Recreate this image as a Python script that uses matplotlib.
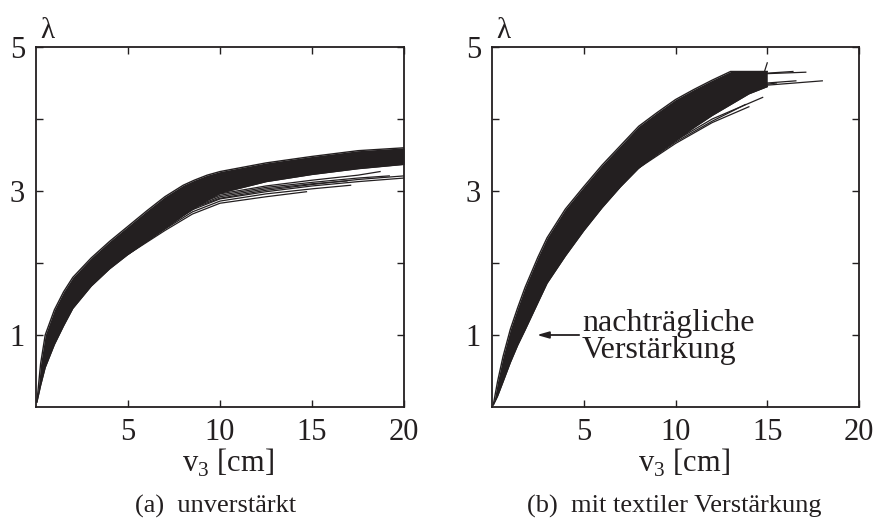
'''
Lambda ueber v3: unverstaerkt vs. mit textiler Verstaerkung
'''
import numpy as np
import matplotlib
matplotlib.use('Agg')
from matplotlib import pyplot as plt

plt.rcParams['font.family'] = ['Liberation Serif', 'DejaVu Serif']
plt.rcParams['mathtext.fontset'] = 'custom'
plt.rcParams['mathtext.rm'] = 'Liberation Serif'

ink = '#231f20'

# ---- (a) unverstaerkt: Kurvenschar als Band + auslaufende Einzelkurven
v_a = [0.05, 0.25, 0.5, 1, 1.5, 2, 3, 4, 5, 6, 7, 8, 8.6, 9.3, 10, 12.5, 15, 17.5, 20]
oben_a = [0.07, 0.6, 1.0, 1.35, 1.6, 1.8, 2.07, 2.3, 2.51, 2.72, 2.92, 3.08, 3.15, 3.22, 3.27, 3.39, 3.48, 3.56, 3.6]
unten_a = [0.07, 0.3, 0.55, 0.87, 1.13, 1.37, 1.68, 1.92, 2.12, 2.3, 2.48, 2.66, 2.76, 2.87, 2.97, 3.13, 3.23, 3.31, 3.37]

# einzelne Kurven unterhalb des Bandes (v, lambda)
kurven_a = [
    ([5, 7, 8.5, 10, 12.5, 14.7], [2.12, 2.45, 2.68, 2.83, 2.92, 2.99]),
    ([5, 7, 8.5, 10, 12.5, 15, 17.1], [2.13, 2.47, 2.71, 2.86, 2.96, 3.03, 3.08]),
    ([5, 7, 8.5, 10, 12.5, 15, 17.5, 20], [2.14, 2.49, 2.74, 2.89, 2.99, 3.07, 3.13, 3.18]),
    ([5, 7, 8.5, 10, 12.5, 15, 16.9], [2.15, 2.51, 2.77, 2.92, 3.03, 3.1, 3.14]),
    ([5, 7, 8.5, 10, 12.5, 15, 17.5, 19.2], [2.15, 2.52, 2.79, 2.94, 3.05, 3.12, 3.18, 3.21]),
    ([5, 7, 8.5, 10, 12.5, 15, 17.5, 18.7], [2.16, 2.53, 2.8, 2.96, 3.07, 3.15, 3.22, 3.27]),
    ([5, 7, 8.5, 10, 12.5, 15, 17.5, 20], [2.15, 2.5, 2.76, 2.9, 3.01, 3.09, 3.16, 3.21]),
    ([8, 10, 12.5, 15, 17.5, 20], [2.75, 3.05, 3.2, 3.3, 3.38, 3.43]),
    ([8, 10, 12.5, 15, 17.5, 19.5], [2.85, 3.12, 3.28, 3.38, 3.46, 3.5]),
    ([8, 10, 12.5, 15, 17.5, 20], [2.9, 3.15, 3.3, 3.4, 3.48, 3.53]),
]

# ---- (b) mit textiler Verstaerkung
v_b = [0.07, 0.3, 0.6, 1, 1.4, 1.8, 2.5, 3, 4, 5, 6, 7, 8, 9, 10, 11, 12, 13, 14, 15]
oben_b = [0.03, 0.35, 0.7, 1.08, 1.38, 1.66, 2.08, 2.35, 2.75, 3.06, 3.36, 3.63, 3.9, 4.09, 4.27, 4.41, 4.54, 4.66, 4.66, 4.66]
unten_b = [0.03, 0.15, 0.35, 0.62, 0.86, 1.07, 1.45, 1.72, 2.1, 2.45, 2.77, 3.06, 3.32, 3.52, 3.7, 3.88, 4.05, 4.2, 4.35, 4.45]

kurven_b = [
    ([8, 10, 12, 14], [3.32, 3.66, 3.95, 4.17]),
    ([8, 10, 12, 14.75], [3.35, 3.7, 4.0, 4.3]),
    ([8, 10, 12, 13.8], [3.33, 3.68, 3.97, 4.2]),
    ([12, 14, 15, 16.5, 18], [4.25, 4.42, 4.47, 4.5, 4.53]),
    ([12, 14, 15, 17.1], [4.45, 4.6, 4.63, 4.65]),
    ([12, 14, 16.4], [4.5, 4.62, 4.66]),
    ([12, 14, 15, 16.56], [4.3, 4.47, 4.5, 4.53]),
    ([12, 14, 15.5], [4.3, 4.45, 4.5]),
    ([14.8, 15.0], [4.62, 4.78]),
]

fig = plt.figure(figsize=(8.83, 5.27), dpi=100)
ax_a = fig.add_axes([36 / 883, 120 / 527, 368 / 883, 360 / 527])
ax_b = fig.add_axes([492 / 883, 120 / 527, 367 / 883, 360 / 527])

for ax, v, oben, unten, kurven in [(ax_a, v_a, oben_a, unten_a, kurven_a),
                                   (ax_b, v_b, oben_b, unten_b, kurven_b)]:
    ax.fill_between(v, unten, oben, color=ink, lw=0)
    ax.plot(v, oben, color=ink, lw=1.0)
    ax.plot(v, unten, color=ink, lw=1.0)
    for kv, kl in kurven:
        ax.plot(kv, kl, color=ink, lw=0.9)

    ax.set_xlim(0, 20)
    ax.set_ylim(0, 5)
    ax.set_xticks([5, 10, 15, 20])
    ax.set_yticks([1, 2, 3, 4, 5])
    ax.set_yticklabels(['1', '', '3', '', '5'])
    ax.tick_params(direction='in', top=True, right=True, length=5, width=1,
                   labelsize=22, colors=ink)
    ax.tick_params(axis='x', pad=8)
    ax.tick_params(axis='y', pad=8)
    for s in ax.spines.values():
        s.set_linewidth(1.3)
        s.set_color(ink)
    ax.set_xlabel('v$_\\mathregular{3}$ [cm]', fontsize=22, color=ink, va='top')
    ax.xaxis.set_label_coords(0.522, -0.112)
    ax.text(0.032, 1.045, 'λ', transform=ax.transAxes, fontsize=21,
            ha='center', va='center', color=ink)

# Hinweis auf nachtraegliche Verstaerkung
ax_b.annotate('', xy=(2.45, 1.0), xytext=(4.75, 1.0),
              arrowprops=dict(arrowstyle='-|>,head_length=0.7,head_width=0.2',
                              color=ink, lw=1.3, shrinkA=0, shrinkB=0))
ax_b.text(4.9, 0.97, 'nachträgliche\nVerstärkung', fontsize=23, color=ink,
          ha='left', va='center', linespacing=0.9)

fig.text(216 / 883, 1 - 506 / 527, '(a)  unverstärkt', fontsize=19,
         ha='center', va='center', color=ink)
fig.text(674 / 883, 1 - 506 / 527, '(b)  mit textiler Verstärkung', fontsize=19,
         ha='center', va='center', color=ink)

plt.savefig('out.png', dpi=100)
